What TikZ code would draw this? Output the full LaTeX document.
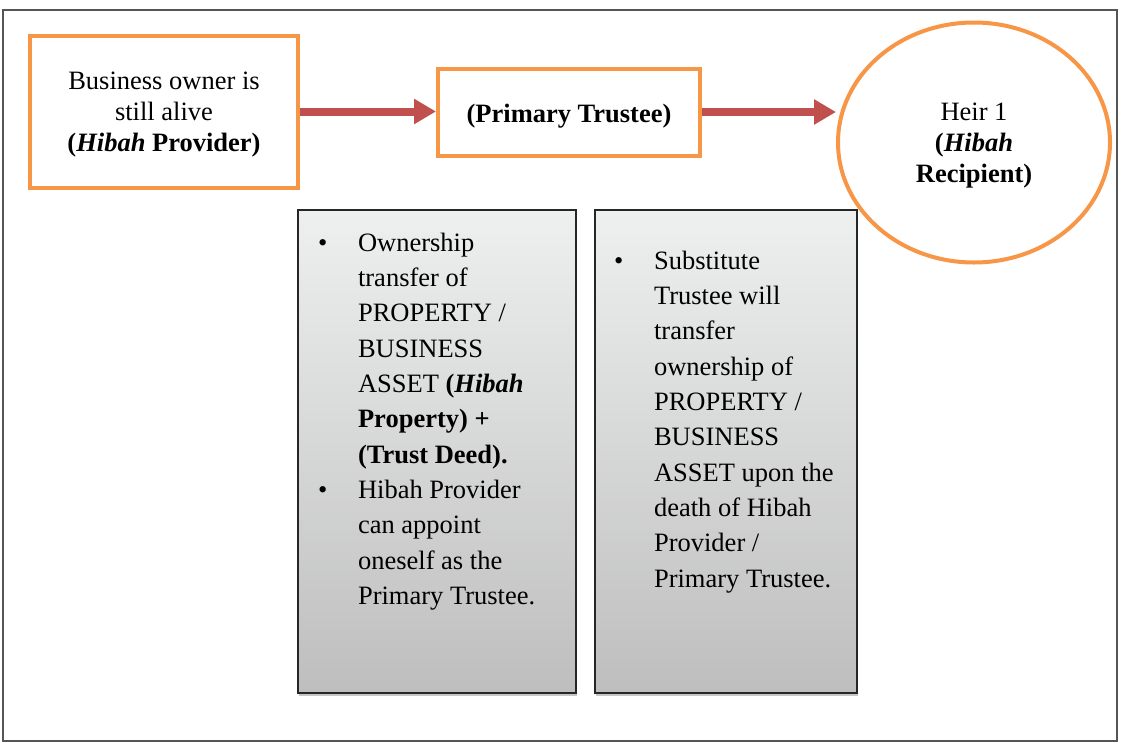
\documentclass[tikz,border=0pt]{standalone}
\usepackage{fontspec}
\setmainfont{Liberation Serif}
\usepackage{tikz}
\usetikzlibrary{arrows.meta,calc,shapes.geometric,shadows}
\definecolor{hibahorange}{HTML}{F79646}
\definecolor{hibahred}{HTML}{C0504D}
\definecolor{notetop}{HTML}{EEEFEF}
\definecolor{notebot}{HTML}{BDBEBD}
\definecolor{framegray}{HTML}{555555}
\newcommand{\boxfont}{\fontsize{26.5}{31.2}\selectfont}
\newcommand{\notefont}{\fontsize{26.5}{35.3}\selectfont}
\newcommand{\dropby}[1]{\rule{0pt}{#1}}

\begin{document}
\begin{tikzpicture}[x=1pt, y=-1pt,
    party/.style={draw=hibahorange, line width=4pt, fill=white, align=center, font=\boxfont, inner sep=0pt},
    flow/.style={draw=hibahred, line width=8pt, -{Triangle[length=22pt,width=24pt]}},
    note/.style={draw=black!85, line width=1.3pt, top color=notetop, bottom color=notebot,
        drop shadow={shadow xshift=1pt, shadow yshift=-3pt, opacity=.45}},
    notetext/.style={anchor=base west, inner sep=0pt, font=\notefont}]
    \useasboundingbox (0,0) rectangle (1137,745);
    \draw[framegray, line width=1.5pt] (3,10) rectangle (1117,741);

    % the three parties
    \node[party, minimum width=268pt, minimum height=152pt] (owner) at (164,111.5)
        {\dropby{24pt}Business owner is\\still alive\\\textbf{(\textit{Hibah} Provider)}};
    \node[party, minimum width=262pt, minimum height=87pt] (trustee) at (569,112)
        {\dropby{27pt}\textbf{(Primary Trustee)}};
    \node[party, ellipse, minimum width=272pt, minimum height=240pt] (heir) at (974,142.5)
        {\dropby{24pt}Heir 1\\\textbf{(\textit{Hibah}}\\\textbf{Recipient)}};
    \foreach \s/\t in {owner/trustee, trustee/heir}
        \draw[flow] (\s.east) -- (\s.east -| \t.west);

    % the two notes
    \node[note, minimum width=278pt, minimum height=483pt] (ownnote) at (437,451.5) {};
    \node[note, minimum width=262pt, minimum height=483pt] (subnote) at (726,451.5) {};
    \node[notetext] (owntext) at ($(ownnote.north west)+(20.5,42)$) {%
        \begin{tabular}[t]{@{}p{40pt}@{}l@{}}
        \textbullet & Ownership\\
         & transfer of\\
         & PROPERTY /\\
         & BUSINESS\\
         & ASSET \textbf{(\textit{Hibah}}\\
         & \textbf{Property) +}\\
         & \textbf{(Trust Deed).}\\
        \textbullet & Hibah Provider\\
         & can appoint\\
         & oneself as the\\
         & Primary Trustee.
        \end{tabular}};
    \node[notetext] (subtext) at ($(subnote.north west)+(19.5,60)$) {%
        \begin{tabular}[t]{@{}p{40pt}@{}l@{}}
        \textbullet & Substitute\\
         & Trustee will\\
         & transfer\\
         & ownership of\\
         & PROPERTY /\\
         & BUSINESS\\
         & ASSET upon the\\
         & death of Hibah\\
         & Provider /\\
         & Primary Trustee.
        \end{tabular}};
\end{tikzpicture}
\end{document}
